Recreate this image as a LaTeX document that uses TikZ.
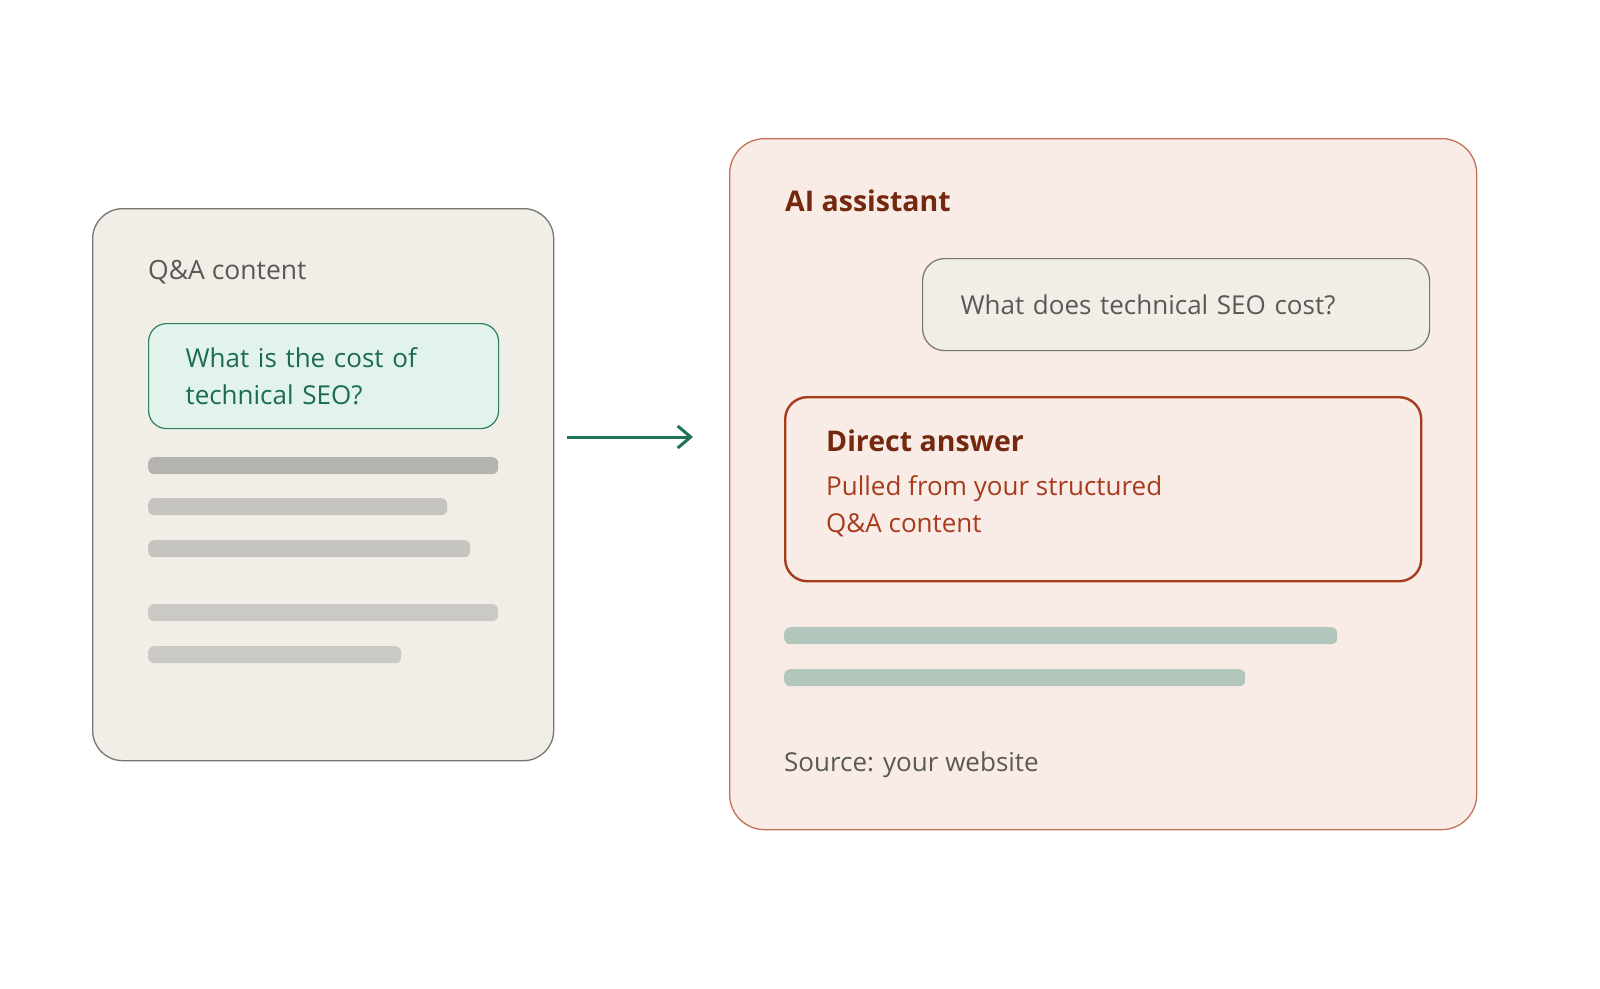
\documentclass[tikz,border=0pt]{standalone}
\usepackage{fontspec}
\setmainfont{Open Sans}
\usetikzlibrary{arrows.meta}

\definecolor{panelgray}{HTML}{F1EEE8}
\definecolor{panelline}{HTML}{77756F}
\definecolor{mint}{HTML}{E2F3EC}
\definecolor{mintline}{HTML}{2F7E60}
\definecolor{minttext}{HTML}{1B6B4E}
\definecolor{barA}{HTML}{B5B3AE}
\definecolor{barB}{HTML}{C6C4BF}
\definecolor{barC}{HTML}{CBC9C4}
\definecolor{arrowgreen}{HTML}{1E7457}
\definecolor{rose}{HTML}{F9ECE7}
\definecolor{roseline}{HTML}{C4715A}
\definecolor{brown}{HTML}{74290F}
\definecolor{rust}{HTML}{A63C1D}
\definecolor{textgray}{HTML}{5A5955}
\definecolor{sage}{HTML}{B3C6BB}

\begin{document}
\begin{tikzpicture}[x=1pt,y=-1pt,
    panel/.style={draw, line width=1.3pt, rounded corners=30pt, anchor=north west, inner sep=0pt},
    card/.style={draw, line width=1.2pt, rounded corners=18pt, anchor=north west, inner ysep=0pt, align=left,
        font=\fontsize{26}{37}\selectfont},
    bar/.style={rounded corners=6pt, anchor=north west, inner sep=0pt, minimum height=17pt},
    txt/.style={anchor=west, inner sep=0pt, align=left, font=\fontsize{26}{37}\selectfont},
    heading/.style={txt, font=\fontsize{28.5}{37}\selectfont\bfseries, text=brown}]
    % page, 1600 x 988
    \useasboundingbox (0,0) rectangle (1600,988);

    % left panel: the Q&A page
    \node[panel, fill=panelgray, draw=panelline, minimum width=461pt, minimum height=552pt] (qa) at (92,208) {};
    \node[txt, text=textgray, font=\fontsize{26.5}{37}\selectfont] (qatitle) at (148,272) {Q\&A content};
    \node[card, fill=mint, draw=mintline, text=minttext, minimum width=350pt, minimum height=105pt,
        text width=276pt, inner xsep=37pt] (question) at (148,323) {What is the cost of\\technical SEO?};
    % text lines
    \foreach \y/\w/\c in {457/350/barA, 498/299/barB, 540/322/barB, 604/350/barC, 646/253/barC}
        \node[bar, fill=\c, minimum width=\w pt] (line\y) at (148,\y) {};

    % arrow between the panels
    \coordinate (from) at (567,437);
    \coordinate (to) at (693,437);
    \draw[-{Straight Barb[length=13pt,width=22pt]}, line width=3pt, arrowgreen] (from) -- (to);

    % right panel: the assistant
    \node[panel, rounded corners=35pt, fill=rose, draw=roseline, minimum width=747pt, minimum height=691pt] (ai) at (729,138) {};
    \node[heading] (aititle) at (785,201) {AI assistant};
    \node[card, rounded corners=22pt, fill=panelgray, draw=panelline, text=textgray, minimum width=507pt, minimum height=92pt,
        text width=431pt, inner xsep=38pt] (ask) at (922,258) {What does technical SEO cost?};
    % direct answer box
    \node[card, rounded corners=22pt, fill=rose, draw=rust, line width=2.4pt, minimum width=636pt, minimum height=184pt] (answer) at (784,396) {};
    \node[heading] (answertitle) at (826,441) {Direct answer};
    \node[txt, text=rust] (answertext) at (826,506) {Pulled from your structured\\Q\&A content};
    % answer lines
    \node[bar, fill=sage, minimum width=553pt] (ans1) at (784,627) {};
    \node[bar, fill=sage, minimum width=461pt] (ans2) at (784,669) {};
    \node[txt, text=textgray] (source) at (784,765) {Source: your website};
\end{tikzpicture}
\end{document}
